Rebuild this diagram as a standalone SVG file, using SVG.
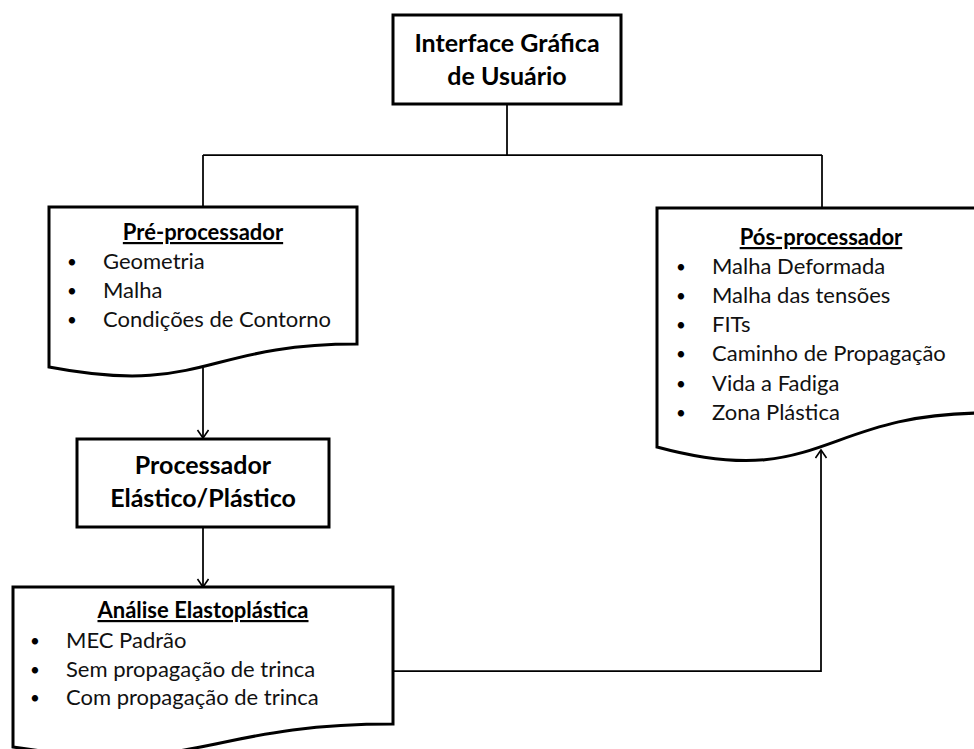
<svg xmlns="http://www.w3.org/2000/svg" width="974" height="749" viewBox="0 0 974 749">
  <style>
    .box { fill: #fff; stroke: #000; stroke-width: 3; }
    .wire { fill: none; stroke: #000; stroke-width: 1.75; }
    .head { font-family: Lato, "Open Sans", sans-serif; font-weight: bold; font-size: 25px; fill: #000; text-anchor: middle; }
    .ttl { font-family: Lato, "Open Sans", sans-serif; font-weight: bold; font-size: 22px; fill: #000; text-anchor: middle; text-decoration: underline; }
    .item { font-family: Lato, "Open Sans", sans-serif; font-size: 22px; fill: #111; }
    .dot { font-family: Lato, "Open Sans", sans-serif; font-size: 17px; fill: #000; text-anchor: middle; }
  </style>
  <defs>
    <marker id="open" markerUnits="userSpaceOnUse" markerWidth="14" markerHeight="14" refX="10" refY="6" orient="auto">
      <path d="M2,0.5 L10,6 L2,11.5" fill="none" stroke="#000" stroke-width="1.6"/>
    </marker>
  </defs>

  <rect width="974" height="749" fill="#fff"/>

  <!-- connectors -->
  <g id="connectors">
    <path class="wire" d="M507,104 V155"/>
    <path class="wire" d="M203,155 H822"/>
    <path class="wire" d="M203,155 V207"/>
    <path class="wire" d="M822,155 V208"/>
    <path class="wire" d="M203,368 V438" marker-end="url(#open)"/>
    <path class="wire" d="M203,527 V587" marker-end="url(#open)"/>
    <path class="wire" d="M393,671 H821 V450" marker-end="url(#open)"/>
  </g>

  <!-- top: user interface -->
  <g id="gui">
    <rect class="box" x="393" y="15" width="228" height="89"/>
    <text class="head" x="507" y="52">Interface Gráfica</text>
    <text class="head" x="507" y="85">de Usuário</text>
  </g>

  <!-- pre-processor document -->
  <g id="pre">
    <path class="box" d="M49,207 H357 V344 C203,344 203,396.4 49,367 Z"/>
    <text class="ttl" x="203" y="240">Pré-processador</text>
    <text class="dot" x="72" y="268">•</text><text class="item" x="103" y="269">Geometria</text>
    <text class="dot" x="72" y="297">•</text><text class="item" x="103" y="298">Malha</text>
    <text class="dot" x="72" y="326">•</text><text class="item" x="103" y="327">Condições de Contorno</text>
  </g>

  <!-- processor -->
  <g id="proc">
    <rect class="box" x="77" y="439" width="252" height="88"/>
    <text class="head" x="203" y="474">Processador</text>
    <text class="head" x="203" y="507">Elástico/Plástico</text>
  </g>

  <!-- elastoplastic analysis document -->
  <g id="analise">
    <path class="box" d="M13,587 H393 V724 C203,724 203,776.4 13,747 Z"/>
    <text class="ttl" x="203" y="618">Análise Elastoplástica</text>
    <text class="dot" x="35" y="647">•</text><text class="item" x="66" y="648">MEC Padrão</text>
    <text class="dot" x="35" y="676">•</text><text class="item" x="66" y="677">Sem propagação de trinca</text>
    <text class="dot" x="35" y="704">•</text><text class="item" x="66" y="705">Com propagação de trinca</text>
  </g>

  <!-- post-processor document -->
  <g id="pos">
    <path class="box" d="M657,208 H985 V413 C821,413 821,491.5 657,447 Z"/>
    <text class="ttl" x="821" y="245">Pós-processador</text>
    <text class="dot" x="681" y="273">•</text><text class="item" x="712" y="274">Malha Deformada</text>
    <text class="dot" x="681" y="302">•</text><text class="item" x="712" y="303">Malha das tensões</text>
    <text class="dot" x="681" y="331">•</text><text class="item" x="712" y="332">FITs</text>
    <text class="dot" x="681" y="360">•</text><text class="item" x="712" y="361">Caminho de Propagação</text>
    <text class="dot" x="681" y="390">•</text><text class="item" x="712" y="391">Vida a Fadiga</text>
    <text class="dot" x="681" y="419">•</text><text class="item" x="712" y="420">Zona Plástica</text>
  </g>
</svg>
